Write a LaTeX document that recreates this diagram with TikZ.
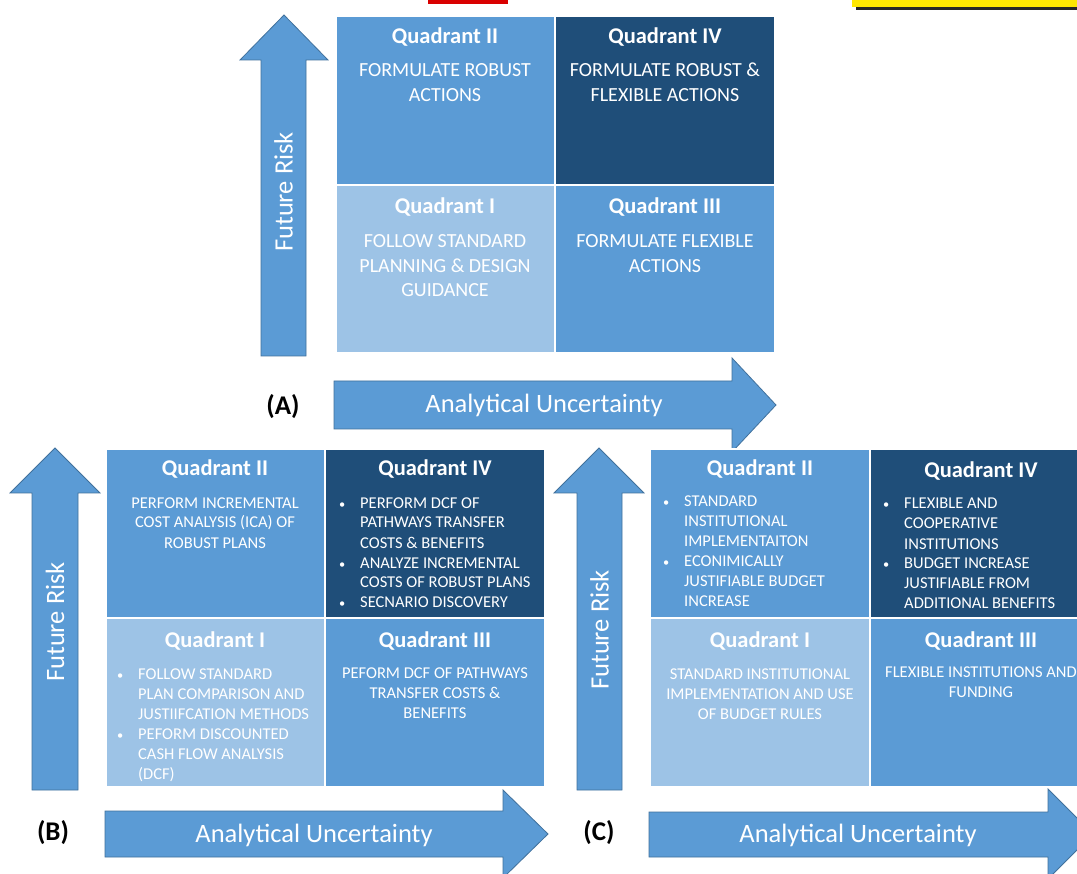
\documentclass[tikz,border=0pt]{standalone}
\usepackage{fontspec}
\setmainfont{Carlito}
\definecolor{qmid}{HTML}{5B9BD5}
\definecolor{qlight}{HTML}{9DC3E6}
\definecolor{qdark}{HTML}{1F4E79}
\definecolor{arrfill}{HTML}{5B9BD5}
\definecolor{arrline}{HTML}{41719C}
\newcommand\blt{\makebox[22pt][l]{\hspace{1pt}\scalebox{0.75}{\textbullet}}}
\newcommand\ctab[1]{\begin{tabular}[t]{@{}c@{}}#1\end{tabular}}
\newcommand\btab[1]{\begin{tabular}[t]{@{}l@{}l@{}}#1\end{tabular}}
\tikzset{
  cell/.style={draw=white, line width=1.5pt, anchor=north west, inner sep=0pt, outer sep=0pt},
  bigarrow/.style={fill=arrfill, draw=arrline, line width=0.8pt},
  qhead/.style={text=white, inner sep=0pt, anchor=base, font=\fontsize{22.5}{26}\selectfont\bfseries},
  bodyA/.style={text=white, inner sep=0pt, anchor=base, font=\fontsize{20}{24.5}\selectfont},
  bodyB/.style={text=white, inner sep=0pt, anchor=base, font=\fontsize{16.5}{20}\selectfont},
  bodyBL/.style={text=white, inner sep=0pt, anchor=base west, font=\fontsize{16.5}{20}\selectfont},
  axislabel/.style={text=white, inner sep=0pt, font=\fontsize{26.5}{30}\selectfont},
  panellabel/.style={text=black, inner sep=0pt, font=\fontsize{27}{30}\selectfont\bfseries},
}
\begin{document}
\begin{tikzpicture}[x=1pt,y=-1pt]
\clip (0,0) rectangle (1077,874);
\fill[white] (0,0) rectangle (1077,874);
% top fragments (cut-off elements at the upper edge)
\fill[red!85!black] (428,-2) rectangle (508,4.5);
\fill[black!85] (856,1) rectangle (1077,10);
\fill[yellow!90!orange] (852,-1) rectangle (1077,7.5);

% ===== arrows =====
\draw[bigarrow] (261,356) -- (261,60) -- (240,60) -- (284,15) -- (328,60) -- (306,60) -- (306,356) -- cycle;
\draw[bigarrow] (334,381) -- (732,381) -- (732,358) -- (776,405) -- (732,452) -- (732,429) -- (334,429) -- cycle;
\draw[bigarrow] (32,790) -- (32,493) -- (10,493) -- (55,448) -- (100,493) -- (78,493) -- (78,790) -- cycle;
\draw[bigarrow] (105,811) -- (503,811) -- (503,790) -- (548,834) -- (503,878) -- (503,857) -- (105,857) -- cycle;
\draw[bigarrow] (577,790) -- (577,493) -- (554,493) -- (599,448) -- (644,493) -- (622,493) -- (622,790) -- cycle;
\draw[bigarrow] (649,812) -- (1048,812) -- (1048,789) -- (1093,834) -- (1048,879) -- (1048,857) -- (649,857) -- cycle;

\node[axislabel, rotate=90] (riskA) at (283.5,192) {Future Risk};
\node[axislabel, rotate=90] (riskB) at (55,622) {Future Risk};
\node[axislabel, rotate=90] (riskC) at (599.5,630) {Future Risk};
\node[axislabel, anchor=base] (uncA) at (544,413) {Analytical Uncertainty};
\node[axislabel, anchor=base] (uncB) at (314,842) {Analytical Uncertainty};
\node[axislabel, anchor=base] (uncC) at (858,842) {Analytical Uncertainty};

\node[panellabel] (labA) at (283,407) {(A)};
\node[panellabel] (labB) at (53,833) {(B)};
\node[panellabel] (labC) at (599,833) {(C)};

% ===== panel A =====
\node[cell, fill=qmid,   minimum width=219pt, minimum height=169pt] (A2) at (336,16) {};
\node[cell, fill=qdark,  minimum width=220pt, minimum height=169pt] (A4) at (555,16) {};
\node[cell, fill=qlight, minimum width=219pt, minimum height=168pt] (A1) at (336,185) {};
\node[cell, fill=qmid,   minimum width=220pt, minimum height=168pt] (A3) at (555,185) {};

\node[qhead] (A2h) at (445,44) {Quadrant II};
\node[bodyA] (A2b) at (445,77) {\ctab{FORMULATE ROBUST\\ACTIONS}};
\node[qhead] (A4h) at (665,44) {Quadrant IV};
\node[bodyA] (A4b) at (665,77) {\ctab{FORMULATE ROBUST \&\\FLEXIBLE ACTIONS}};
\node[qhead] (A1h) at (445,214) {Quadrant I};
\node[bodyA] (A1b) at (445,248) {\ctab{FOLLOW STANDARD\\PLANNING \& DESIGN\\GUIDANCE}};
\node[qhead] (A3h) at (665,214) {Quadrant III};
\node[bodyA] (A3b) at (665,248) {\ctab{FORMULATE FLEXIBLE\\ACTIONS}};

% ===== panel B =====
\node[cell, fill=qmid,   minimum width=219pt, minimum height=169pt] (B2) at (106,449) {};
\node[cell, fill=qdark,  minimum width=220pt, minimum height=169pt] (B4) at (325,449) {};
\node[cell, fill=qlight, minimum width=219pt, minimum height=169pt] (B1) at (106,618) {};
\node[cell, fill=qmid,   minimum width=220pt, minimum height=169pt] (B3) at (325,618) {};

\node[qhead] (B2h) at (215,476) {Quadrant II};
\node[bodyB] (B2b) at (215,508) {\ctab{PERFORM INCREMENTAL\\COST ANALYSIS (ICA) OF\\ROBUST PLANS}};
\node[qhead] (B4h) at (435,476) {Quadrant IV};
\node[bodyBL] (B4b) at (338,508) {\btab{\blt&PERFORM DCF OF\\&PATHWAYS TRANSFER\\&COSTS \& BENEFITS\\\blt&ANALYZE INCREMENTAL\\&COSTS OF ROBUST PLANS\\\blt&SECNARIO DISCOVERY}};
\node[qhead] (B1h) at (215,647) {Quadrant I};
\node[bodyBL] (B1b) at (116,679) {\btab{\blt&FOLLOW STANDARD\\&PLAN COMPARISON AND\\&JUSTIIFCATION METHODS\\\blt&PEFORM DISCOUNTED\\&CASH FLOW ANALYSIS\\&(DCF)}};
\node[qhead] (B3h) at (435,647) {Quadrant III};
\node[bodyB] (B3b) at (435,678) {\ctab{PEFORM DCF OF PATHWAYS\\TRANSFER COSTS \&\\BENEFITS}};

% ===== panel C =====
\node[cell, fill=qmid,   minimum width=220pt, minimum height=169pt] (C2) at (650,449) {};
\node[cell, fill=qdark,  minimum width=222pt, minimum height=169pt] (C4) at (870,449) {};
\node[cell, fill=qlight, minimum width=220pt, minimum height=169pt] (C1) at (650,618) {};
\node[cell, fill=qmid,   minimum width=222pt, minimum height=169pt] (C3) at (870,618) {};

\node[qhead] (C2h) at (760,476) {Quadrant II};
\node[bodyBL] (C2b) at (662,507) {\btab{\blt&STANDARD\\&INSTITUTIONAL\\&IMPLEMENTAITON\\\blt&ECONIMICALLY\\&JUSTIFIABLE BUDGET\\&INCREASE}};
\node[qhead] (C4h) at (981,478) {Quadrant IV};
\node[bodyBL] (C4b) at (882,509) {\btab{\blt&FLEXIBLE AND\\&COOPERATIVE\\&INSTITUTIONS\\\blt&BUDGET INCREASE\\&JUSTIFIABLE FROM\\&ADDITIONAL BENEFITS}};
\node[qhead] (C1h) at (760,647) {Quadrant I};
\node[bodyB] (C1b) at (760,679) {\ctab{STANDARD INSTITUTIONAL\\IMPLEMENTATION AND USE\\OF BUDGET RULES}};
\node[qhead] (C3h) at (981,647) {Quadrant III};
\node[bodyB] (C3b) at (981,677) {\ctab{FLEXIBLE INSTITUTIONS AND\\FUNDING}};
\end{tikzpicture}
\end{document}
